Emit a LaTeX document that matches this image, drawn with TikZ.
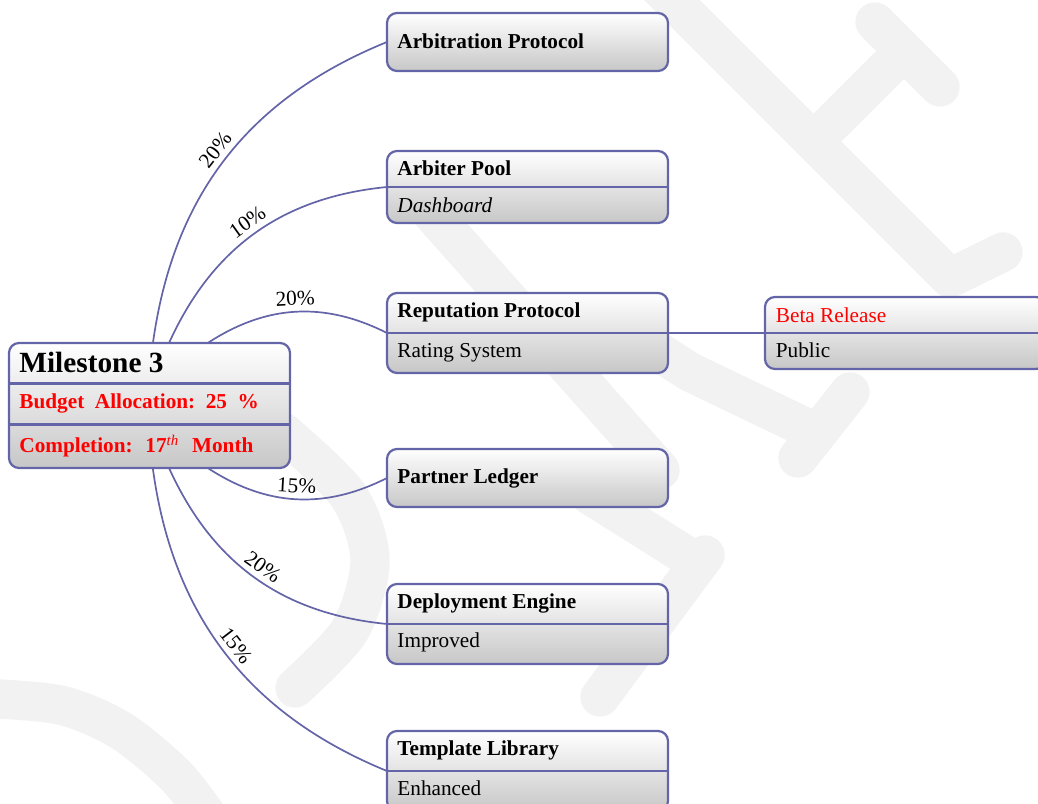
\documentclass[tikz,border=0pt]{standalone}
\usepackage{fontspec}
\setmainfont{Liberation Serif}
\usetikzlibrary{calc,backgrounds,shapes.misc}
\definecolor{edgeblue}{RGB}{100,100,168}
\definecolor{wmgray}{RGB}{242,242,242}
\tikzset{
  x=0.4708pt, y=0.4708pt,
  box/.style={draw=edgeblue, line width=1.05pt, rounded corners=4.7pt,
    top color=white, bottom color=black!22, minimum width=281*0.4708pt,
    inner sep=0pt, outer sep=0pt},
  divider/.style={draw=edgeblue, line width=1pt},
  conn/.style={draw=edgeblue, line width=0.8pt},
  txt/.style={anchor=base west, inner sep=0pt, font=\fontsize{10pt}{12pt}\selectfont},
  ttl/.style={txt, font=\fontsize{10pt}{12pt}\selectfont\bfseries},
  pct/.style={font=\fontsize{10pt}{12pt}\selectfont, sloped, above, inner sep=2.5pt},
  wm/.style={draw=wmgray, line width=18.5pt, line cap=round, line join=round},
}
\begin{document}
\begin{tikzpicture}
\useasboundingbox (0,0) rectangle (1038,-804);
\clip (0,0) rectangle (1038,-804);
% main node
\node[box, minimum height=125*0.4708pt] (m) at (149.5,-405.5) {};
\draw[divider] (9,-383.5) -- (290,-383.5);
\draw[divider] (9,-424.5) -- (290,-424.5);
\node[txt, font=\fontsize{13.8pt}{16pt}\selectfont\bfseries] (mt) at (19,-373) {Milestone 3};
\node[txt, font=\fontsize{10pt}{12pt}\selectfont\bfseries, text=red] (mb) at (19,-408.5) {Budget\hspace{0.5em}Allocation:\hspace{0.5em}25\hspace{0.5em}\%};
\node[txt, font=\fontsize{10pt}{12pt}\selectfont\bfseries, text=red] (mc) at (19,-453) {Completion:\hspace{0.6em}17\textsuperscript{\mdseries\itshape th}\hspace{0.6em}Month};
% right column
\node[box, minimum height=58*0.4708pt] (a) at (527.5,-42) {};
\node[ttl] (at) at (397,-49) {Arbitration Protocol};

\node[box, minimum height=72*0.4708pt] (b) at (527.5,-187) {};
\draw[divider] (b.west) -- (b.east);
\node[ttl] (bt) at (397,-176) {Arbiter Pool};
\node[txt, font=\fontsize{10pt}{12pt}\selectfont\itshape] (bs) at (397,-212.5) {Dashboard};

\node[box, minimum height=80*0.4708pt] (r) at (527.5,-333) {};
\draw[divider] (r.west) -- (r.east);
\node[ttl] (rt) at (397,-318) {Reputation Protocol};
\node[txt] (rs) at (397,-358) {Rating System};

\node[box, minimum height=58*0.4708pt] (p) at (527.5,-478) {};
\node[ttl] (pt) at (397,-484) {Partner Ledger};

\node[box, minimum height=80*0.4708pt] (d) at (527.5,-624) {};
\draw[divider] (d.west) -- (d.east);
\node[ttl] (dt) at (397,-609) {Deployment Engine};
\node[txt] (ds) at (397,-648) {Improved};

\node[box, minimum height=80*0.4708pt] (t) at (527.5,-771) {};
\draw[divider] (t.west) -- (t.east);
\node[ttl] (tt) at (397,-756) {Template Library};
\node[txt] (ts) at (397,-796) {Enhanced};

\node[box, minimum height=72*0.4708pt] (br) at (905.5,-333) {};
\draw[divider] (br.west) -- (br.east);
\node[txt, text=red] (brt) at (775.5,-322.5) {Beta Release};
\node[txt] (brs) at (775.5,-357.5) {Public};
% watermark and connectors
\begin{pgfonlayer}{background}
% faint watermark strokes
\draw[wm] (652,20) -- (950,-278) -- (1003,-252);
\draw[wm] (815,-140) -- (893,-62);
\draw[wm] (875,-22) -- (940,-87);
\draw[wm] (420,-200) -- (660,-470);
\draw[wm] (640,-340) -- (690,-372) -- (815,-432);
\draw[wm] (850,-392) -- (798,-458);
\draw[wm] (590,-495) -- (690,-558);
\draw[wm] (705,-555) -- (600,-697);
\draw[wm] plot[smooth] coordinates {(283,-432) (348,-495) (370,-560) (350,-630) (295,-688)};
\draw[wm] plot[smooth] coordinates {(-20,-698) (60,-705) (120,-730) (175,-775) (210,-820)};
% connectors
\draw[conn] (m) to[bend left=30] node[pct] {20\%} (a.west);
\draw[conn] (m) to[bend left=30] node[pct] {10\%} (b.west);
\draw[conn] (m) to[bend left=30] node[pct] {20\%} (r.west);
\draw[conn] (m) to[bend right=30] node[pct] {15\%} (p.west);
\draw[conn] (m) to[bend right=30] node[pct] {20\%} (d.west);
\draw[conn] (m) to[bend right=30] node[pct] {15\%} (t.west);
\draw[conn] (r.east) -- (br.west);
\end{pgfonlayer}
\end{tikzpicture}
\end{document}
